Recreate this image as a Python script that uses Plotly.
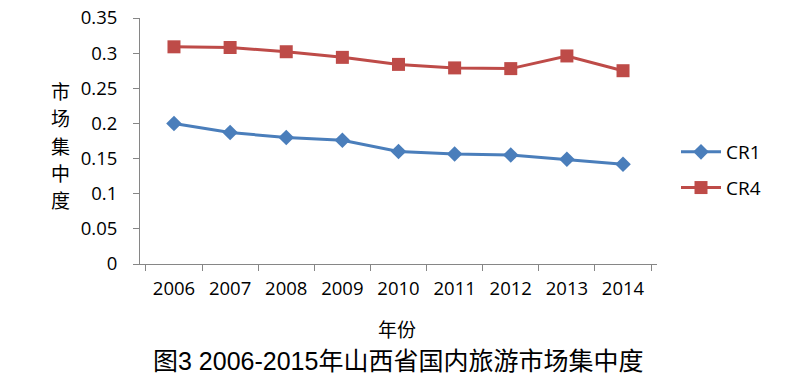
import plotly.graph_objects as go

years = ["2006", "2007", "2008", "2009", "2010", "2011", "2012", "2013", "2014"]
cr1 = [0.200, 0.187, 0.180, 0.176, 0.160, 0.1565, 0.155, 0.149, 0.142]
cr4 = [0.309, 0.308, 0.302, 0.294, 0.284, 0.279, 0.278, 0.296, 0.275]
yticks = [0, 0.05, 0.1, 0.15, 0.2, 0.25, 0.3, 0.35]
yticktext = ["0", "0.05", "0.1", "0.15", "0.2", "0.25", "0.3", "0.35"]
ytitle_chars = ["市", "场", "集", "中", "度"]

fig = go.Figure()
fig.add_trace(go.Scatter(x=years, y=cr1, name="CR1", mode="lines+markers", legendgroup="a",
                         line=dict(color="#4A7EBB", width=3),
                         marker=dict(symbol="diamond", size=12, color="#4A7EBB")))
fig.add_trace(go.Scatter(x=years, y=cr4, name="CR4", mode="lines+markers", legendgroup="b",
                         line=dict(color="#BE4B48", width=3),
                         marker=dict(symbol="square", size=13, color="#BE4B48")))

font_num = "Open Sans, Liberation Sans, sans-serif"
font_cjk = "Noto Sans CJK SC, sans-serif"

# plot area in screen px: x 140..657, y 18..264
L, T = 140, 18
R = 800 - 657
B = 388 - 264
PW, PH = 800 - L - R, 388 - T - B


def px_x(x):
    return (x - L) / PW


def px_y(y):
    return (264 - y) / PH


fig.update_layout(
    width=800, height=388,
    margin=dict(l=L, r=R, t=T, b=B, autoexpand=False),
    paper_bgcolor="white", plot_bgcolor="white",
    font=dict(family=font_num, size=18, color="black"),
    showlegend=True,
    legend=dict(x=px_x(676), y=px_y(170), xanchor="left", yanchor="middle",
                font=dict(size=19, family=font_num), itemwidth=40,
                tracegroupgap=8, bgcolor="rgba(0,0,0,0)"),
    xaxis=dict(type="category", tickson="boundaries", ticks="outside", ticklen=6,
               tickcolor="#868686", showline=True, linecolor="#868686", linewidth=1,
               showgrid=False, tickfont=dict(size=18.5, family=font_num), zeroline=False,
               automargin=False, ticklabelstandoff=8),
    yaxis=dict(range=[0, 0.35], tickvals=yticks, ticktext=yticktext, ticks="outside",
               ticklen=6, tickcolor="#868686", showline=True, linecolor="#868686",
               linewidth=1, showgrid=False, zeroline=False, automargin=False,
               ticklabeloverflow="allow", ticklabelstandoff=12,
               tickfont=dict(size=18.5, family=font_num)),
)

for i, ch in enumerate(ytitle_chars):
    fig.add_annotation(text=ch, xref="paper", yref="paper",
                       x=px_x(60), y=px_y(90 + i * 27.5), xanchor="center", yanchor="middle",
                       showarrow=False, font=dict(family=font_cjk, size=19, color="black"))
fig.add_annotation(text="年份", xref="paper", yref="paper",
                   x=px_x(397), y=px_y(328), xanchor="center", yanchor="middle",
                   showarrow=False, font=dict(family=font_cjk, size=19, color="black"))
fig.add_annotation(text="图3 2006-2015年山西省国内旅游市场集中度", xref="paper", yref="paper",
                   x=px_x(398), y=px_y(361), xanchor="center", yanchor="middle",
                   showarrow=False,
                   font=dict(family="Liberation Sans, Noto Sans CJK SC, sans-serif", size=25,
                             color="black"))

fig.write_html("out.html", config={"displayModeBar": False},
               post_script="document.body.style.margin='0px';")
